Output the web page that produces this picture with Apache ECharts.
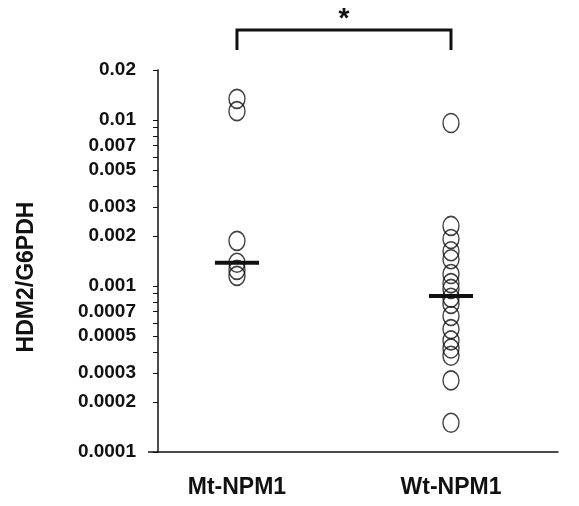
<!DOCTYPE html>
<html>
<head>
<meta charset="utf-8">
<script src="https://cdn.jsdelivr.net/npm/echarts@6/dist/echarts.min.js"></script>
<style>
  html, body { margin: 0; padding: 0; background: #fff; }
  #chart { width: 579px; height: 506px; }
</style>
</head>
<body>
<div id="chart"></div>
<script>
// 数据
var categories = ['Mt-NPM1', 'Wt-NPM1'];
var mtValues = [0.0134, 0.0113, 0.00187, 0.00138, 0.00125, 0.00115];
var wtValues = [0.00959, 0.0023, 0.00192, 0.00162, 0.00145, 0.00118, 0.00104, 0.00096,
                0.00085, 0.00078, 0.00066, 0.00055, 0.00047, 0.00042, 0.00038, 0.00027, 0.00015];
var medians = [0.00138, 0.00087];
var yLabelValues = [0.0001, 0.0002, 0.0003, 0.0005, 0.0007, 0.001, 0.002, 0.003, 0.005, 0.007, 0.01, 0.02];
var yTickValues = [0.0001, 0.0002, 0.0003, 0.0004, 0.0005, 0.0006, 0.0007, 0.0008, 0.0009,
                   0.001, 0.002, 0.003, 0.004, 0.005, 0.006, 0.007, 0.008, 0.009, 0.01, 0.02];

var font = 'Liberation Sans, Arial, sans-serif';
var chart = echarts.init(document.getElementById('chart'));

function points(vals, x) {
  return vals.map(function (v) { return [x, v]; });
}

var series = [
  {
    type: 'scatter',
    data: points(mtValues, 1),
    symbol: 'circle',
    symbolSize: [16, 19],
    itemStyle: { color: 'transparent', borderColor: '#111', borderWidth: 1.5 }
  },
  {
    type: 'scatter',
    data: points(wtValues, 2),
    symbol: 'circle',
    symbolSize: [16, 19],
    itemStyle: { color: 'transparent', borderColor: '#111', borderWidth: 1.5 }
  }
];
// 中位数横线
medians.forEach(function (m, i) {
  series.push({
    type: 'line',
    data: [[i + 1 - 0.103, m], [i + 1 + 0.103, m]],
    symbol: 'none',
    lineStyle: { color: '#111', width: 4 },
    z: 3
  });
});

var option = {
  animation: false,
  grid: { left: 158, right: 21, top: 70, bottom: 54, outerBoundsMode: 'none' },
  xAxis: {
    type: 'value',
    min: 0.631,
    max: 2.5,
    splitLine: { show: false },
    axisTick: { show: false },
    axisLine: { lineStyle: { color: '#111', width: 1.5 } },
    axisLabel: {
      customValues: [1, 2],
      margin: 24,
      color: '#111',
      fontFamily: font,
      fontWeight: 'bold',
      fontSize: 23,
      formatter: function (v) { return categories[Math.round(v) - 1]; }
    }
  },
  yAxis: {
    type: 'log',
    logBase: 10,
    min: 0.0001,
    max: 0.02,
    name: 'HDM2/G6PDH',
    nameLocation: 'middle',
    nameGap: 120,
    nameTextStyle: { color: '#111', fontFamily: font, fontWeight: 'bold', fontSize: 23, padding: [0, 32, 0, 0] },
    splitLine: { show: false },
    axisLine: { show: true, lineStyle: { color: '#111', width: 1.5 } },
    axisTick: { show: true, customValues: yTickValues, length: 5, lineStyle: { color: '#111' } },
    axisLabel: {
      customValues: yLabelValues,
      margin: 22,
      color: '#111',
      fontFamily: font,
      fontWeight: 'bold',
      fontSize: 19,
      formatter: function (v) { return String(v); }
    }
  },
  series: series
};

chart.setOption(option);

// 显著性括号
var p1 = chart.convertToPixel({ gridIndex: 0 }, [1, 0.0001]);
var p2 = chart.convertToPixel({ gridIndex: 0 }, [2, 0.0001]);
chart.setOption({
  graphic: [
    {
      type: 'polyline',
      shape: { points: [[p1[0], 50], [p1[0], 30], [p2[0], 30], [p2[0], 50]] },
      style: { stroke: '#111', lineWidth: 3, fill: null }
    },
    {
      type: 'text',
      x: (p1[0] + p2[0]) / 2,
      y: 19,
      style: { text: '*', fill: '#111', font: 'bold 28px ' + font, align: 'center', verticalAlign: 'middle' }
    },
    {
      // x轴线向左略伸出
      type: 'line',
      shape: { x1: 148, y1: p1[1], x2: 158, y2: p1[1] },
      style: { stroke: '#111', lineWidth: 1.5 }
    }
  ]
});
</script>
</body>
</html>
